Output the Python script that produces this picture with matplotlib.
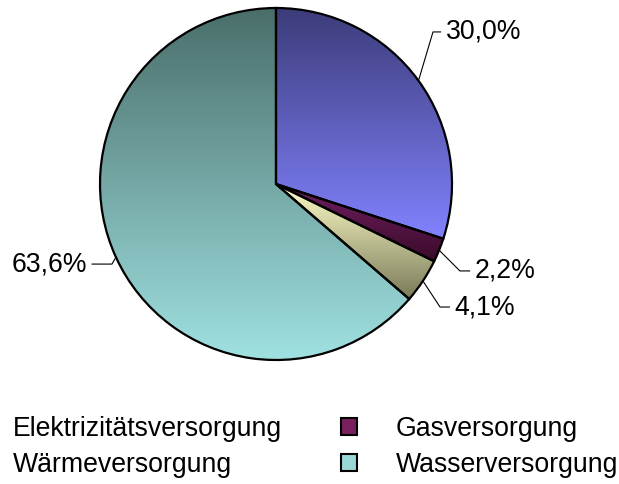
import numpy as np
import matplotlib
matplotlib.use("Agg")
import matplotlib.pyplot as plt
from matplotlib.colors import to_rgba
from matplotlib.patches import Rectangle

plt.rcParams['font.family'] = ['Liberation Sans', 'DejaVu Sans']

categories = ["Elektrizitätsversorgung", "Gasversorgung", "Wärmeversorgung", "Wasserversorgung"]
values = [30.0, 2.2, 4.1, 63.6]
labels = ["30,0%", "2,2%", "4,1%", "63,6%"]
grad_top = ["#3c3c7a", "#721f62", "#ffffc8", "#4a6e6a"]
grad_bottom = ["#8282ff", "#3a0b2a", "#7a7a5a", "#a0e2e2"]
legend_colors = [None, "#7a1f5e", None, "#9ad8d8"]

FS = 19.2

fig = plt.figure(figsize=(6.19, 4.84), dpi=100)
ax = fig.add_axes([100/619, 124/484, 352/619, 352/484])
ax.set_xlim(-1, 1)
ax.set_ylim(-1, 1)
ax.set_aspect('equal')
ax.axis('off')

wedges, _ = ax.pie(values, startangle=90, counterclock=False, radius=1.0,
                   wedgeprops=dict(facecolor='none', edgecolor='black', linewidth=1.6, zorder=3))

for w, ct, cb in zip(wedges, grad_top, grad_bottom):
    verts = w.get_path().vertices
    xmin, ymin = verts.min(axis=0)
    xmax, ymax = verts.max(axis=0)
    n = 256
    t = np.linspace(0, 1, n)[:, None]
    c0 = np.array(to_rgba(ct)); c1 = np.array(to_rgba(cb))
    arr = (c0 * (1 - t) + c1 * t)[:, None, :]
    im = ax.imshow(arr, extent=(xmin, xmax, ymin, ymax), origin='upper',
                   aspect='auto', zorder=1, interpolation='bilinear')
    im.set_clip_path(w)

ax.set_xlim(-1, 1)
ax.set_ylim(-1, 1)

# leader lines and labels
elbows = [(0.892, 0.864), (1.045, -0.494), (0.932, -0.699), (-0.932, -0.455)]
ends = [0.935, 1.10, 0.985, -1.045]
for w, lab, (ex, ey), hx in zip(wedges, labels, elbows, ends):
    ang = np.deg2rad((w.theta1 + w.theta2) / 2)
    px, py = np.cos(ang), np.sin(ang)
    ax.plot([px, ex, hx], [py, ey, ey], color='black', lw=0.8, zorder=4, clip_on=False)
    if hx > 0:
        ax.text(hx + 0.03, ey, lab, ha='left', va='center', fontsize=FS, clip_on=False)
    else:
        ax.text(hx - 0.03, ey, lab, ha='right', va='center', fontsize=FS, clip_on=False)

# legend
handles = []
order = [0, 2, 1, 3]
for i in order:
    c = legend_colors[i]
    if c is None:
        handles.append(Rectangle((0, 0), 1, 1, facecolor='none', edgecolor='none'))
    else:
        handles.append(Rectangle((0, 0), 1, 1, facecolor=c, edgecolor='black', linewidth=1.5))
leg = fig.legend(handles, [categories[i] for i in order], ncol=2,
                 loc='upper left', bbox_to_anchor=(-42/619, 1 - 416/484),
                 frameon=False, fontsize=FS, handlelength=0.6, handleheight=0.6,
                 handletextpad=1.46, columnspacing=2.2, labelspacing=0.38,
                 borderpad=0, borderaxespad=0)

fig.savefig("out.png", dpi=100)
